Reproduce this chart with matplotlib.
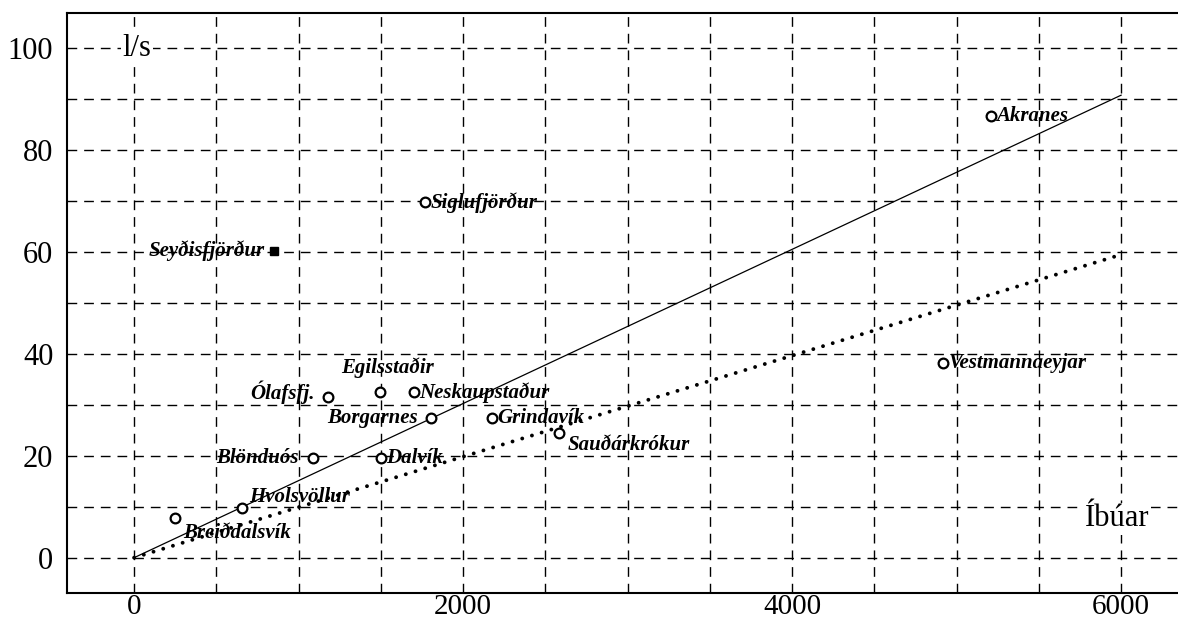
import numpy as np
import matplotlib
matplotlib.use("Agg")
import matplotlib.pyplot as plt
from matplotlib.ticker import MultipleLocator

plt.rcParams['font.family'] = ['Liberation Serif', 'DejaVu Serif']

# ------------------------------------------------------------
# data
# ------------------------------------------------------------
towns      = ["Akranes", "Vestmannaeyjar", "Siglufjörður", "Ólafsfj.", "Egilsstaðir",
              "Neskaupstaður", "Borgarnes", "Grindavík", "Sauðárkrókur", "Blönduós",
              "Dalvík", "Hvolsvöllur", "Breiðdalsvík"]
residents  = [5210, 4920, 1770, 1180, 1495, 1700, 1805, 2175, 2585, 1090, 1500, 655, 250]
flow_ls    = [86.7, 38.2, 69.8, 31.6, 32.5, 32.5, 27.4, 27.4, 24.5, 19.6, 19.6, 9.8, 7.8]

# the one town drawn with a filled square
seydis_name = "Seyðisfjörður"
seydis_x    = 850
seydis_y    = 60.2

# two reference lines, endpoints (residents, l/s)
line_solid_x  = [0, 6000]
line_solid_y  = [0, 90.8]
line_dotted_x = [0, 6000]
line_dotted_y = [0, 59.5]

xticks = [0, 2000, 4000, 6000]
yticks = [0, 20, 40, 60, 80, 100]

# label placement: (offset px x, offset px y, ha)
label_pos = {
    "Akranes":        (5, 0, 'left'),
    "Vestmannaeyjar": (5, 0, 'left'),
    "Siglufjörður":   (5, 0, 'left'),
    "Ólafsfj.":       (-13, 4, 'right'),
    "Egilsstaðir":    (8, 25, 'center'),
    "Neskaupstaður":  (5, 0, 'left'),
    "Borgarnes":      (-13, 0, 'right'),
    "Grindavík":      (5, 0, 'left'),
    "Sauðárkrókur":   (8, -12, 'left'),
    "Blönduós":       (-15, 0, 'right'),
    "Dalvík":         (5, 0, 'left'),
    "Hvolsvöllur":    (7, 11, 'left'),
    "Breiðdalsvík":   (8, -15, 'left'),
}

# ------------------------------------------------------------
fig = plt.figure(figsize=(11.78, 6.28), dpi=100)
ax = fig.add_axes([0.057, 0.056, 0.943, 0.923])

ax.set_xlim(-407, 6346)
ax.set_ylim(-6.9, 106.9)

ax.xaxis.set_major_locator(plt.FixedLocator(xticks))
ax.yaxis.set_major_locator(plt.FixedLocator(yticks))
ax.xaxis.set_minor_locator(MultipleLocator(500))
ax.yaxis.set_minor_locator(MultipleLocator(10))
ax.grid(which='both', color='black', linewidth=1.0, dashes=(7, 5))
ax.set_axisbelow(True)
ax.tick_params(which='both', length=0)
ax.tick_params(axis='y', labelsize=22, pad=10)
ax.tick_params(axis='x', labelsize=21, pad=1)

for side in ['left', 'top', 'bottom']:
    ax.spines[side].set_linewidth(1.5)
ax.spines['right'].set_visible(False)

# reference lines
ax.plot(line_solid_x, line_solid_y, color='black', lw=0.9)
ax.plot(line_dotted_x, line_dotted_y, color='black', lw=2.8,
        dashes=(0.01, 2.6), dash_capstyle='round')

# towns
ax.plot(residents, flow_ls, linestyle='none', marker='o', markersize=7,
        markerfacecolor='white', markeredgecolor='black', markeredgewidth=1.6)
for name, xv, yv in zip(towns, residents, flow_ls):
    dx, dy, ha = label_pos[name]
    ax.annotate(name, (xv, yv), xytext=(dx, dy), textcoords='offset pixels',
                ha=ha, va='center', fontsize=15, style='italic', weight='bold')

ax.plot([seydis_x], [seydis_y], linestyle='none', marker='s', markersize=6,
        color='black')
ax.annotate(seydis_name, (seydis_x, seydis_y), xytext=(-9, 0),
            textcoords='offset pixels', ha='right', va='center',
            fontsize=15, style='italic', weight='bold')

# axis captions
ax.text(-70, 100, "l/s", ha='left', va='center', fontsize=22,
        bbox=dict(facecolor='white', edgecolor='none', pad=1))
ax.text(5780, 7.6, "Íbúar", ha='left', va='center', fontsize=22,
        bbox=dict(facecolor='white', edgecolor='none', pad=1))

fig.savefig("out.png", dpi=100)
